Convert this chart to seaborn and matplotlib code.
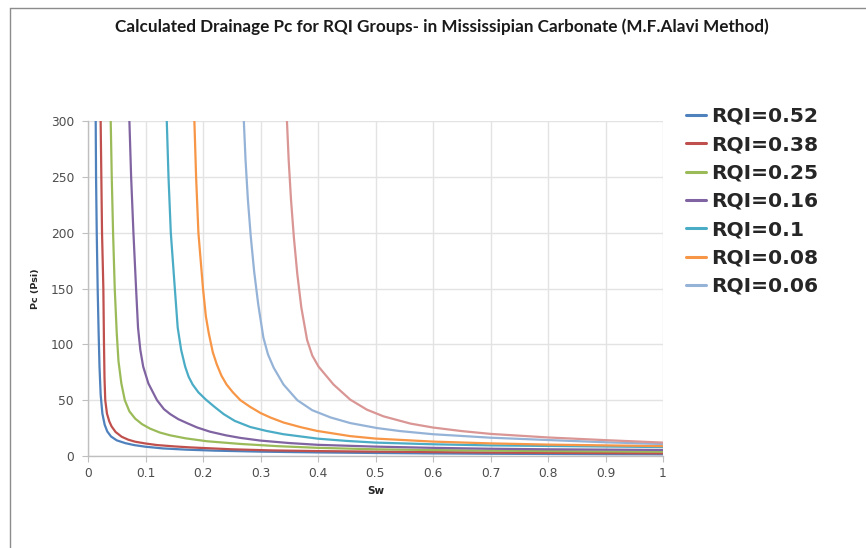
import matplotlib
matplotlib.use("Agg")
import matplotlib.pyplot as plt
from matplotlib.lines import Line2D
import seaborn as sns
import pandas as pd

# Drainage capillary pressure curves, Pc (psi) versus water saturation Sw
sw_052 = [0.0134, 0.0140, 0.0152, 0.0168, 0.0185, 0.020, 0.022, 0.025, 0.029, 0.0335, 0.040, 0.050,
          0.065, 0.080, 0.10, 0.13, 0.17, 0.22, 0.30, 0.40, 0.50, 0.60, 0.70, 0.80, 0.90, 1.00]
pc_052 = [300, 250, 200, 150, 110, 80, 55, 38, 28, 22, 17.5, 14,
          11.5, 9.8, 8.3, 6.8, 5.7, 4.8, 3.9, 3.2, 2.7, 2.3, 2.0, 1.8, 1.6, 1.5]

sw_038 = [0.022, 0.0232, 0.0244, 0.0267, 0.0278, 0.0287, 0.0300, 0.033, 0.037, 0.041, 0.048, 0.0587,
          0.070, 0.082, 0.10, 0.12, 0.15, 0.178, 0.25, 0.32, 0.40, 0.50, 0.60, 0.70, 0.80, 0.90, 1.00]
pc_038 = [300, 250, 200, 150, 100, 70, 50, 38, 31, 26.5, 21.5, 17.2,
          14.6, 12.8, 11.2, 9.8, 8.6, 7.7, 6.0, 5.0, 4.4, 3.9, 3.5, 3.1, 2.8, 2.6, 2.4]

sw_025 = [0.0395, 0.0413, 0.0436, 0.0465, 0.050, 0.053, 0.058, 0.064, 0.072, 0.082, 0.094, 0.108,
          0.125, 0.143, 0.17, 0.207, 0.265, 0.33, 0.40, 0.50, 0.60, 0.70, 0.80, 0.90, 1.00]
pc_025 = [300, 250, 200, 150, 110, 85, 65, 50, 40, 33.5, 28.5, 24.5,
          21, 18.5, 15.8, 13.2, 10.8, 8.8, 7.3, 6.0, 5.3, 4.8, 4.4, 4.1, 3.9]

sw_016 = [0.072, 0.075, 0.079, 0.0836, 0.087, 0.091, 0.096, 0.105, 0.120, 0.132, 0.143, 0.157,
          0.172, 0.19, 0.212, 0.24, 0.265, 0.30, 0.35, 0.40, 0.50, 0.60, 0.70, 0.80, 0.90, 1.00]
pc_016 = [300, 250, 200, 150, 115, 95, 80, 65, 50, 42, 37.5, 33,
          29.5, 25.5, 21.8, 18.5, 16.2, 13.8, 11.6, 10.0, 8.4, 7.3, 6.5, 6.0, 5.7, 5.4]

sw_010 = [0.137, 0.140, 0.144, 0.151, 0.156, 0.162, 0.169, 0.175, 0.182, 0.192, 0.205, 0.220,
          0.236, 0.255, 0.282, 0.31, 0.34, 0.40, 0.45, 0.50, 0.60, 0.70, 0.80, 0.90, 1.00]
pc_010 = [300, 250, 200, 150, 115, 95, 80, 71, 64, 57, 50.5, 44,
          37.5, 31.5, 26, 22.5, 19.5, 15.5, 13.5, 12, 10.5, 9.5, 9.0, 8.5, 8.0]

sw_008 = [0.185, 0.188, 0.192, 0.200, 0.205, 0.210, 0.217, 0.224, 0.232, 0.241, 0.252, 0.265,
          0.282, 0.300, 0.317, 0.34, 0.37, 0.398, 0.456, 0.50, 0.60, 0.70, 0.80, 0.90, 1.00]
pc_008 = [300, 250, 200, 150, 125, 110, 93, 82, 72, 64, 57, 50,
          44, 38.5, 34.5, 30, 25.8, 22.5, 17.8, 15.6, 12.9, 11.3, 10.2, 9.5, 8.9]

sw_006 = [0.271, 0.274, 0.278, 0.283, 0.289, 0.296, 0.305, 0.313, 0.323, 0.340, 0.364, 0.390,
          0.422, 0.456, 0.503, 0.543, 0.60, 0.70, 0.80, 0.90, 1.00]
pc_006 = [300, 265, 230, 197, 165, 136, 106, 91, 79, 64, 50, 41,
          34.5, 29.5, 25, 22.3, 19.5, 16.4, 14.3, 12.3, 10.7]

sw_g8 = [0.346, 0.349, 0.353, 0.358, 0.364, 0.371, 0.381, 0.390, 0.401, 0.427, 0.456, 0.485,
         0.514, 0.561, 0.60, 0.65, 0.70, 0.80, 0.90, 1.00]
pc_g8 = [300, 265, 230, 196, 163, 133, 104, 90, 80, 64, 50.5, 41.5,
         35.5, 29, 25.5, 22.3, 19.8, 16.6, 14.2, 12]

groups = ["RQI=0.52", "RQI=0.38", "RQI=0.25", "RQI=0.16", "RQI=0.1", "RQI=0.08", "RQI=0.06", "Group 8"]
sw_series = [sw_052, sw_038, sw_025, sw_016, sw_010, sw_008, sw_006, sw_g8]
pc_series = [pc_052, pc_038, pc_025, pc_016, pc_010, pc_008, pc_006, pc_g8]
legend_labels = groups[:7]

colors = ["#4F81BD", "#C0504D", "#9BBB59", "#8064A2", "#4BACC6", "#F79646", "#95B3D7", "#D99694"]

frames = []
for g, s, p in zip(groups, sw_series, pc_series):
    frames.append(pd.DataFrame({"Sw": s, "Pc": p, "group": g}))
df = pd.concat(frames, ignore_index=True)

sns.set_theme(style="white")
plt.rcParams["font.family"] = ["DejaVu Sans"]

fig = plt.figure(figsize=(8.66, 5.48), dpi=100)
fig.patch.set_facecolor("white")
ax = fig.add_axes([88 / 866, 1 - 456 / 548, 575 / 866, 335 / 548])

sns.lineplot(data=df, x="Sw", y="Pc", hue="group", hue_order=groups,
             palette=colors, estimator=None, sort=False, linewidth=1.6,
             legend=False, ax=ax)

ax.set_xlim(0, 1)
ax.set_ylim(0, 300)
ax.set_xticks([0, 0.1, 0.2, 0.3, 0.4, 0.5, 0.6, 0.7, 0.8, 0.9, 1])
ax.set_xticklabels(["0", "0.1", "0.2", "0.3", "0.4", "0.5", "0.6", "0.7", "0.8", "0.9", "1"])
ax.set_yticks([0, 50, 100, 150, 200, 250, 300])
ax.grid(True, color="#E3E3E3", linewidth=1.0)
ax.set_axisbelow(True)
for side in ["top", "right"]:
    ax.spines[side].set_visible(False)
for side in ["left", "bottom"]:
    ax.spines[side].set_color("#BFBFBF")
    ax.spines[side].set_linewidth(1.0)
ax.tick_params(axis="both", which="major", length=4, width=0.8, color="#BFBFBF",
               labelsize=8.8, labelcolor="#4D4D4D", direction="out",
               left=True, bottom=True)
ax.tick_params(axis="y", pad=6)
ax.tick_params(axis="x", pad=4)

ax.set_xlabel("Sw", fontsize=7.5, fontweight="bold", color="#262626", labelpad=4)
ax.set_ylabel("Pc (Psi)", fontsize=6.8, fontweight="bold", color="#262626", labelpad=8)

fig.text(442 / 866, 1 - 27 / 548,
         "Calculated Drainage Pc for RQI Groups- in Mississipian Carbonate (M.F.Alavi Method)",
         ha="center", va="center", fontsize=12.3, fontweight="bold", color="#1a1a1a",
         family=["Lato", "DejaVu Sans"])

handles = [Line2D([0], [0], color=c, linewidth=2.2) for c in colors[:7]]
ax.legend(handles, legend_labels, loc="upper left",
          bbox_to_anchor=(686 / 866, 1 - 107 / 548), bbox_transform=fig.transFigure,
          frameon=False, prop={"weight": "bold", "size": 14.6},
          handlelength=1.0, handletextpad=0.25, labelspacing=0.46, borderpad=0,
          borderaxespad=0)

# outer frame
fig.add_artist(Line2D([10 / 866, 10 / 866], [0, 1 - 8 / 548], transform=fig.transFigure,
                      color="#8C8C8C", linewidth=1.0))
fig.add_artist(Line2D([10 / 866, 1], [1 - 8 / 548, 1 - 8 / 548], transform=fig.transFigure,
                      color="#8C8C8C", linewidth=1.0))

fig.savefig("out.png", dpi=100, facecolor="white")
